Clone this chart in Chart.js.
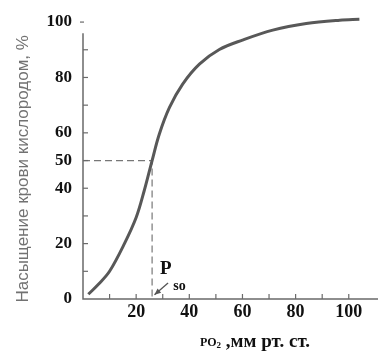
<!DOCTYPE html>
<html><head><meta charset="utf-8">
<script src="https://cdn.jsdelivr.net/npm/chart.js@4.4.1/dist/chart.umd.min.js"></script>
<style>html,body{margin:0;padding:0;background:#fff}#wrap{width:381px;height:356px}</style>
</head><body><div id="wrap"><canvas id="c" width="381" height="356"></canvas></div>
<script>
// Oxygen dissociation curve
const po2 = [2, 6, 10, 15.5, 20, 23, 26, 28.7, 32.5, 37.5, 43.8, 51.3, 60, 71.4, 84, 96.6, 104];
const saturation = [1.7, 5.5, 10, 19.8, 29.4, 39, 50, 59.5, 69.1, 77.6, 84.8, 90.1, 93.5, 97.1, 99.5, 100.7, 101];
const p50X = [0, 26, 26];
const p50Y = [50, 50, 0];
const xTicks = [0, 10, 20, 30, 40, 50, 60, 70, 80, 90, 100];
const xLabels = [20, 40, 60, 80, 100];
const yTicks = [0, 10, 20, 30, 40, 50, 60, 70, 80, 90, 100];
const yLabels = [0, 20, 40, 50, 60, 80, 100];
const yTitle = 'Насыщение крови кислородом, %';
const xTitleMain = 'PO';
const xTitleSub = '2';
const xTitleRest = ' ,мм рт. ст.';
const p50Main = 'P';
const p50Sub = 'so';

const AXIS = '#6a6a6a';
const SERIF = '"Liberation Serif", "Times New Roman", serif';

const overlay = {
  id: 'overlay',
  afterDraw(chart) {
    const ctx = chart.ctx;
    const xs = chart.scales.x, ys = chart.scales.y;
    const ax = xs.getPixelForValue(0), ay = ys.getPixelForValue(0);
    ctx.save();
    ctx.strokeStyle = AXIS;
    ctx.lineWidth = 1.5;
    ctx.beginPath();
    ctx.moveTo(ax, ys.getPixelForValue(96));
    ctx.lineTo(ax, ay);
    ctx.lineTo(xs.right, ay);
    ctx.stroke();
    ctx.lineWidth = 1.2;
    yTicks.forEach(v => {
      if (v === 0) return;
      const py = ys.getPixelForValue(v);
      ctx.beginPath();
      if (v === 100) { ctx.moveTo(ax - 3, py); ctx.lineTo(ax + 1, py); }
      else { ctx.moveTo(ax, py); ctx.lineTo(ax + 5, py); }
      ctx.stroke();
    });
    xTicks.forEach(v => {
      if (v === 0) return;
      const px = xs.getPixelForValue(v);
      ctx.beginPath(); ctx.moveTo(px, ay); ctx.lineTo(px, ay - 5); ctx.stroke();
    });
    // y title
    ctx.fillStyle = '#727272';
    ctx.font = '17px "Liberation Sans", Arial, sans-serif';
    ctx.textAlign = 'center'; ctx.textBaseline = 'middle';
    ctx.translate(23, ys.getPixelForValue(47));
    ctx.rotate(-Math.PI / 2);
    ctx.fillText(yTitle, 0, 0);
    ctx.setTransform(1, 0, 0, 1, 0, 0);
    // x title
    ctx.fillStyle = '#111';
    ctx.textAlign = 'left'; ctx.textBaseline = 'alphabetic';
    const by = ay + 48;
    let tx = xs.getPixelForValue(44);
    ctx.font = 'bold 12px ' + SERIF;
    ctx.fillText(xTitleMain, tx, by - 1);
    tx += ctx.measureText(xTitleMain).width;
    ctx.font = 'bold 9px ' + SERIF;
    ctx.fillText(xTitleSub, tx, by + 1);
    tx += ctx.measureText(xTitleSub).width;
    ctx.font = 'bold 19px ' + SERIF;
    ctx.fillText(xTitleRest, tx, by);
    // P50 annotation
    ctx.font = 'bold 19px ' + SERIF;
    ctx.textAlign = 'center'; ctx.textBaseline = 'middle';
    ctx.fillText(p50Main, xs.getPixelForValue(31.2), ys.getPixelForValue(10.7));
    ctx.font = 'bold 14px ' + SERIF;
    ctx.fillText(p50Sub, xs.getPixelForValue(36.3), ys.getPixelForValue(4.4));
    const x1 = xs.getPixelForValue(32), y1 = ys.getPixelForValue(5.8);
    const x2 = xs.getPixelForValue(26.9), y2 = ys.getPixelForValue(1.5);
    ctx.strokeStyle = '#555'; ctx.fillStyle = '#555'; ctx.lineWidth = 1.3;
    ctx.beginPath(); ctx.moveTo(x1, y1); ctx.lineTo(x2, y2); ctx.stroke();
    const ang = Math.atan2(y2 - y1, x2 - x1);
    ctx.beginPath();
    ctx.moveTo(x2, y2);
    ctx.lineTo(x2 - 7 * Math.cos(ang - 0.4), y2 - 7 * Math.sin(ang - 0.4));
    ctx.lineTo(x2 - 7 * Math.cos(ang + 0.4), y2 - 7 * Math.sin(ang + 0.4));
    ctx.closePath(); ctx.fill();
    ctx.restore();
  }
};

new Chart(document.getElementById('c'), {
  type: 'line',
  data: {
    datasets: [
      {
        data: po2.map((x, i) => ({ x, y: saturation[i] })),
        borderColor: '#585858', borderWidth: 3, pointRadius: 0,
        tension: 0.35, fill: false, clip: false
      },
      {
        data: p50X.map((x, i) => ({ x, y: p50Y[i] })),
        borderColor: '#777', borderWidth: 1.2, borderDash: [7, 4],
        pointRadius: 0, tension: 0, fill: false
      }
    ]
  },
  options: {
    responsive: false, animation: false, devicePixelRatio: 1,
    layout: { padding: { top: 11, right: 3, left: 0, bottom: 0 } },
    plugins: { legend: { display: false }, tooltip: { enabled: false } },
    scales: {
      x: {
        type: 'linear', min: 0, max: 111,
        afterBuildTicks: s => { s.ticks = xTicks.map(v => ({ value: v })); },
        afterFit: s => { s.height = 57; s.paddingLeft = 0; s.paddingRight = 0; },
        grid: { display: false, drawTicks: false },
        border: { display: false },
        ticks: {
          autoSkip: false, maxRotation: 0, padding: 3, color: '#111',
          font: { family: SERIF, size: 18, weight: 'bold' },
          callback: v => xLabels.includes(v) ? String(v) : ''
        }
      },
      y: {
        type: 'linear', min: 0, max: 104,
        afterBuildTicks: s => { s.ticks = yTicks.map(v => ({ value: v })); },
        afterFit: s => { s.width = 83; s.paddingTop = 0; s.paddingBottom = 0; },
        grid: { display: false, drawTicks: false },
        border: { display: false },
        ticks: {
          autoSkip: false, padding: 11, color: '#111',
          font: { family: SERIF, size: 17, weight: 'bold' },
          callback: v => yLabels.includes(v) ? String(v) : ''
        }
      }
    }
  },
  plugins: [overlay]
});
</script></body></html>
